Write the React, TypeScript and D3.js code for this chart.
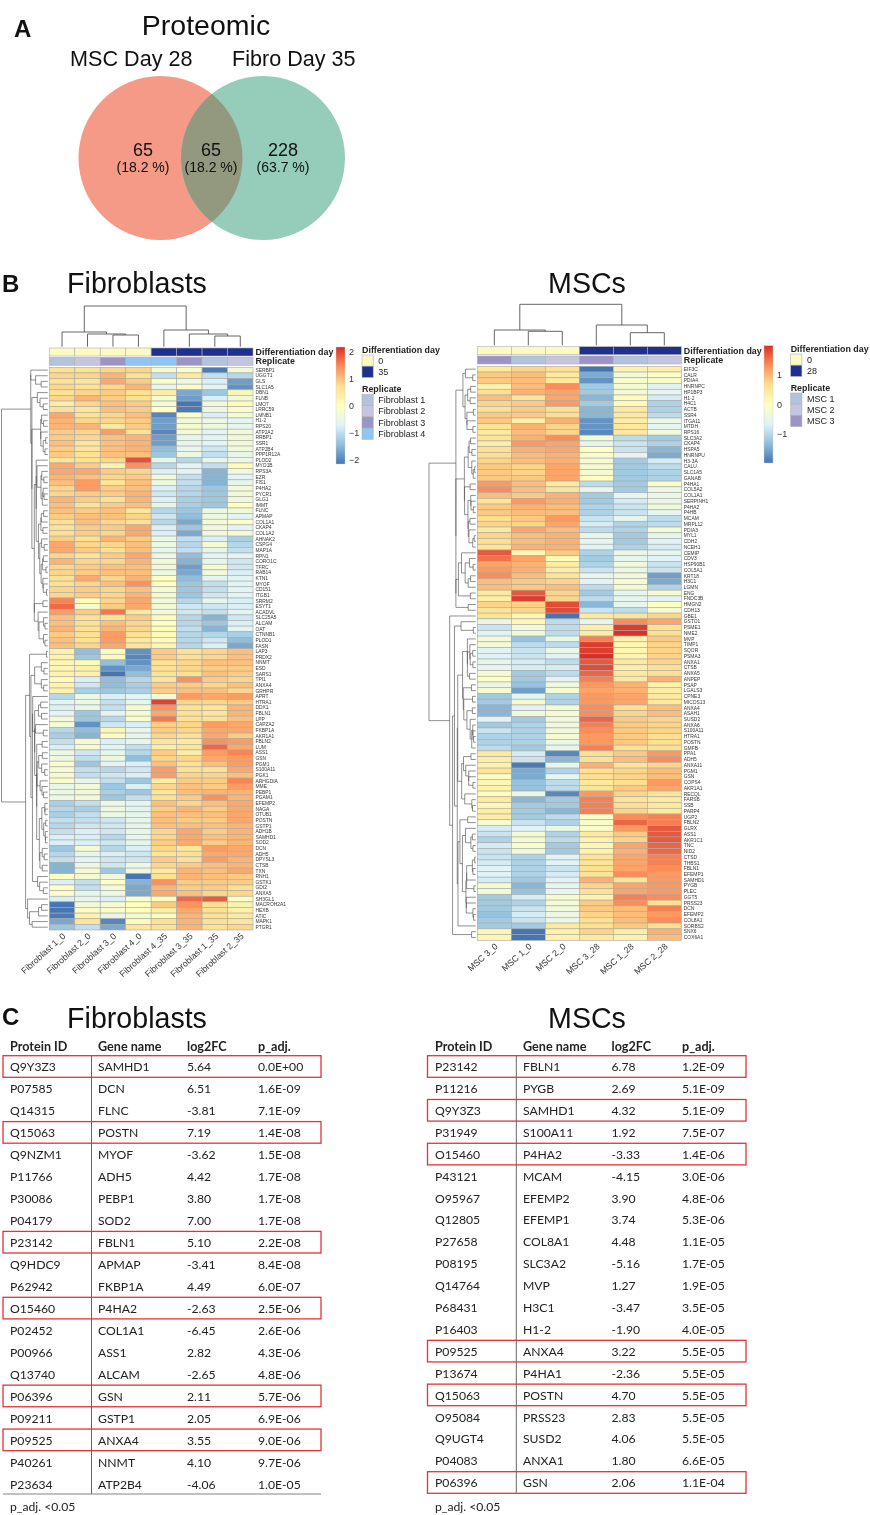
import * as d3 from "d3";
import React from "react";

// ---- panel B: fibroblasts ----
const fibroColumns = ["Fibroblast 1_0", "Fibroblast 2_0", "Fibroblast 3_0", "Fibroblast 4_0", "Fibroblast 4_35", "Fibroblast 3_35", "Fibroblast 1_35", "Fibroblast 2_35"];
const fibroDays = [0, 0, 0, 0, 35, 35, 35, 35];
const fibroReplicates = ["Fibroblast 1", "Fibroblast 2", "Fibroblast 3", "Fibroblast 4", "Fibroblast 4", "Fibroblast 3", "Fibroblast 1", "Fibroblast 2"];
const fibroGenes = ["SERBP1","UGGT1","GLS","SLC1A5","DBN1","FLNB","LMO7","LRRC59","LMNB1","H1-2","RPS20","ATP2A2","RRBP1","SSR1","ATP2B4","PPP1R12A","PLOD2","MYO1B","RPS3A","EZR","FIS1","P4HA2","PYCR1","GLG1","IMMT","FLNC","APMAP","COL1A1","CKAP4","COL1A2","AHNAK2","CSPG4","MAP1A","RPN1","CORO1C","TFRC","RAB14","KTN1","MYOF","CD151","ITGB1","SRRM2","ESYT1","ACADVL","SLC25A5","ALCAM","OAT","CTNNB1","PLOD1","FASN","LAP3","PRDX2","NNMT","ESD","SARS1","TPI1","ANXA4","GRHPR","APRT","HTRA1","DDX1","FBLN1","LPP","CAPZA2","FKBP1A","AKR1A1","FBLN2","LUM","ASS1","GSN","PGM1","S100A11","PGK1","ARHGDIA","MME","PEBP1","PGAM1","EFEMP2","NAGA","OTUB1","POSTN","GSTP1","ADH1B","SAMHD1","SOD2","DCN","ADH5","DPYSL3","CTSB","TXN","RNH1","GSTK1","GDI2","ANXA5","SH3GL1","MACROH2A1","HEXB","ATIC","MAPK1","PTGR1"];
const fibroValues = [
  [.7,.7,.8,.8,-.2,-.1,-1.9,-.3],[.8,.8,1.1,.7,-.9,.5,-.9,-1],[.7,.6,1.2,.9,-.1,-.4,-.7,-1.6],[.8,.7,.8,1.1,-.5,-.1,-.6,-1.7],
  [.7,.8,.9,.7,.4,-1.5,-1.2,.2],[.8,1.1,.9,.7,-.2,-1.6,-.7,-.3],[.4,.8,1,.9,-.2,-2,-.3,.1],[.7,.6,1,.9,0,-1.9,-.4,-.1],
  [1.2,.7,.8,1,-1.8,-.1,-.7,-.2],[1.1,.8,.8,.9,-1.6,-.3,-.4,-.6],[1.1,1.1,.5,.9,-1.6,-.2,-.4,-.5],[.9,.8,1.3,.7,-1.8,-.2,-.6,-.3],
  [.9,.8,1,1.1,-1.6,-.5,-.6,-.3],[1,.6,1,1.1,-1.6,-.5,-.6,-.3],[.9,.6,1,1.1,-1.3,-.5,-.8,-.3],[.9,.7,1,1,-1.2,-.4,-.9,-.5],
  [.6,.7,.8,1.9,-.5,-1,-.5,-.4],[1.2,.9,.3,1.4,-1,-.6,-.9,.1],[1.2,1.2,.9,.8,-.7,-.6,-1.4,-.3],[1.1,1,.8,.9,-.3,-.9,-1.4,-.6],
  [1,1.3,.6,1,-.4,-.9,-1.4,-.5],[.8,1.3,.9,1,-.7,-1,-1.2,-.3],[.8,.9,.9,1.1,-.8,-1,-1.2,-.3],[1.1,.9,.7,1.1,-.7,-1.1,-1.2,-.3],
  [1,.7,.9,1,-.5,-1.1,-1.2,0],[1,.9,1,.6,-1,-1.2,-.4,-.3],[.9,1,1,.8,-.8,-1.3,-.4,-.6],[.7,1,.8,.7,-1,-1.5,-.2,0],
  [.7,.9,.9,1.2,-.7,-1.2,-.3,-.6],[.7,.9,.8,1.2,-.7,-1.5,-.3,-.2],[.9,.7,1.1,.9,-.4,-.9,-.7,-1.1],[1.2,.8,.8,1,-.4,-1,-.2,-1],
  [1.2,.9,.7,1,-.5,-.9,-.5,-.9],[.8,.6,.9,1.2,-.4,-1.3,-.6,-.6],[1.1,.8,.8,1.1,-.3,-1.4,-.5,-.8],[.8,.9,1,1,-.3,-1.6,-.2,-.8],
  [.8,.9,1,1,-.4,-1.5,-.3,-.7],[.7,1.2,.8,1.1,0,-1.3,-.6,-.6],[.7,.8,1,1.4,0,-1.2,-.9,-.6],[.8,.9,.8,1,-.2,-1.2,-.9,-.6],
  [.8,.9,.8,1.1,-.2,-1.2,-.8,-.6],[1.5,.1,.8,1.2,-.3,-1,-.5,-.7],[1.7,-.2,.9,1.2,-.3,-.8,-.8,-.7],[1.3,.9,1.6,.5,-.3,-.8,-.9,-.6],
  [1,.7,.7,.9,.1,-1,-1.4,-.8],[1,.7,1,.8,0,-1,-1.2,-.7],[1.1,.7,1.1,.8,.1,-.9,-1.4,-.6],[.9,.7,1.3,.7,.1,-1,-1,-1.1],
  [1,.7,1.3,.5,.1,-1,-.8,-1.3],[1,.8,1.2,.6,.2,-1,-.7,-1.5],
  [.3,-1.3,.1,-1.7,.9,.7,.8,1],[.3,-1.2,.1,-1.8,.9,.7,.8,1],[.2,.1,-1.3,-1.7,.7,.8,1,1],[.2,.3,-1.7,-1.5,.7,.8,.9,.9],
  [.3,.3,-2,-1.3,.7,.7,1,.9],[.1,-.7,-1.3,-1,.6,1.4,.9,.8],[.3,-.8,-1.3,-1.1,.9,.9,.8,1],[.3,-1.1,-1.2,-1.1,.9,1,1,.8],
  [-1,-.4,-.7,-.6,-.3,1.3,1.2,1.3],[-.6,-.4,-.9,-.5,2,.8,.8,.9],[-.7,-.5,-.9,-.2,1.4,.7,.6,1.1],[-.6,-1.2,-.6,-.2,1.2,.7,.6,1.1],
  [-.3,-1.2,-1,-.1,1.6,.7,.7,1],[-.2,-1.7,-.8,-.7,.9,.8,1.3,1.2],[-1,-1.3,.2,-.5,.9,.8,1.2,1.2],[-1.1,-1.4,-.1,-.5,.8,.7,1.2,.9],
  [-.9,-.2,-.7,-.5,.6,.5,1.4,1.3],[-.7,-.2,-.6,-.9,.4,.6,1.7,1.2],[-.4,-.8,-.5,-1,.9,.4,1.3,1.5],[-.4,-.9,-.4,-1.3,.8,.8,1.2,1.3],
  [-.1,-1.2,-.6,-.7,1,.7,1,1.3],[-.2,-.9,-1,-.8,1.3,.7,.7,1.2],[-.2,-.9,-.8,-.7,1.3,.8,.8,1],[-.1,-.5,-.9,-1.2,.4,.9,.9,1.5],
  [-.5,-.3,-1.2,-.7,.8,1,.9,1.3],[-.4,-.3,-1.1,-1.2,.6,1,1.1,1.1],[-.4,-.3,-1.2,-.9,.7,.9,1.4,1.1],[-1.1,-.9,-.4,-.6,1,.8,1,1.2],
  [-1,-1.1,-.4,-.6,.9,1.1,.9,1.2],[-1.1,-.9,-.4,-.5,1,1,1,1.2],[-.9,-.9,-.8,-.5,1,.9,.9,1.2],[-1,-.8,-.8,-.5,1,1,1,1.1],
  [-.9,-.7,-.8,-.5,.8,1.2,.9,1.1],[-.7,-.7,-1,-.5,.8,1.2,1,1.1],[-.7,-.7,-.8,-.5,.9,1.2,.9,1.1],[-1.2,-.2,-1,-.7,.8,.5,1.3,1.2],
  [-1,-.5,-.7,-.8,.6,.7,1.2,1.2],[-.9,-.6,-.8,-.8,.9,.7,1.3,1.1],[-1.4,-.4,-.8,-.4,.8,.9,1,1.1],[-1.4,-.2,-1.2,-.4,.5,1.1,1,1.2],
  [0,-.2,-.3,-2,.7,1.1,1,.9],[-.7,-.9,0,-1.4,1.4,.9,.9,.9],[0,-.9,-.3,-1.5,1.1,.9,.9,.7],[-.1,-.5,-.4,-1.5,1.2,1,.8,.8],
  [-.7,-.5,-.7,-.1,.1,1.7,1.8,-.1],[-2,-.3,-.2,0,.9,1.4,.7,.3],[-2.3,-.1,-.1,0,.4,1.2,.7,.3],[-1.9,.3,-.5,-.2,.1,1.1,.7,.5],
  [-1.5,.6,-1.8,.1,.7,1.1,.7,.6],[-1.2,-.9,-1.5,.6,.7,1.1,.7,.8],
];
const fibroColTree = { h: 40.7, kids: [{ h: 14.7, kids: [0, { h: 12.7, kids: [1, { h: 11.7, kids: [2, 3] }] }] }, { h: 16.7, kids: [4, { h: 12.7, kids: [5, { h: 10.7, kids: [6, 7] }] }] }] };
// top splits of the row tree, as seen in the picture: [from, to) row ranges
const fibroRowBlocks = [[[0, 4], [4, 50]], [[50, 94], [94, 100]]];
const fibroBarTicks = [2, 1, 0, -1, -2];

// ---- panel B: MSCs ----
const mscColumns = ["MSC 3_0", "MSC 1_0", "MSC 2_0", "MSC 3_28", "MSC 1_28", "MSC 2_28"];
const mscDays = [0, 0, 0, 28, 28, 28];
const mscReplicates = ["MSC 3", "MSC 1", "MSC 2", "MSC 3", "MSC 1", "MSC 2"];
const mscGenes = ["EIF3C","CALR","PDIA4","HNRNPC","HP1BP3","H1-2","H4C1","ACTB","SSR4","ITGA11","MTDH","RPS16","SLC3A2","CKAP4","HSPA5","HNRNPU","H3-3A","CALU","SLC1A5","GANAB","P4HA1","COL5A2","COL1A1","SERPINH1","P4HA2","P4HB","MCAM","MRPL12","PDIA3","MYL1","CDH2","NCEH1","CEMIP","CDV3","HSP90B1","COL5A1","KRT18","H3C1","LGMN","ENG","FNDC3B","HMGN2","CDH13","GBE1","GSTO1","PSME1","NME2","MVP","TIMP1","SQOR","PSMA3","ANXA1","CTSB","ANXA5","ANPEP","PSAP","LGALS3","CPNE3","MICOS13","ANXA4","ASAH1","SUSD2","ANXA6","S100A11","HTRA1","POSTN","GMFB","PPA1","ADH5","ANXA11","PGM1","GSN","COPS4","AKR1A1","RECQL","FARSB","SSB","PARP4","UGP2","FBLN2","GLRX","ASS1","AKR1C1","TNC","NID2","CTSD","THBS1","FBLN1","EFEMP1","SAMHD1","PYGB","PLEC","GGT5","PRSS23","DCN","EFEMP2","COL8A1","SORBS2","SNX6","COX6A1"];
const mscValues = [
  [.5,.8,.7,-1.9,.3,.4],[.9,1,.5,-1.4,-.3,-.1],[.9,1,.5,-1.6,-.1,-.1],[.3,1,1.4,-1.1,-.2,-.6],[.7,1.1,1.2,-1.1,-.2,-.5],
  [1,.6,1.2,-1.3,.1,-.7],[.8,.9,1.3,-1.1,.1,-1],[.7,.9,.7,-1.3,.5,-1],[.9,.9,.7,-1.3,.5,-.9],[.9,.4,1.1,-1.6,.4,-.4],
  [.6,1.1,.8,-1.6,.5,-.5],[.5,1,.8,-1.7,.5,-.3],[.6,1.1,1.4,-.2,-.9,-1.1],[.4,1.3,1.2,-.5,-.8,-1],[.7,1.1,1.2,0,-.8,-1.3],
  [.7,1,1.1,-.1,-.5,-1.4],[.8,1,1.1,-.2,-1.1,-.7],[.9,.8,1.2,-.2,-1.1,-.9],[.9,.8,1.2,-.2,-1.1,-1],[.9,.9,1.2,0,-1.1,-1],
  [1.3,1,.5,-.9,-1.1,-.1],[1.4,1,.6,-.5,-1.1,-.4],[1,.9,1.1,-1.1,-.5,-.4],[.6,1.3,1.1,-1.1,-.7,-.4],[.9,1.1,1,-1,-.8,-.3],
  [.9,1,1,-1,-.8,-.5],[.7,.9,1.3,-.8,-.5,-.9],[.8,.8,1.2,-.7,-1,-.9],[.5,1.2,1,-.9,-1,-.2],[.8,1,1.1,-.5,-1.1,-.5],
  [.7,1,1.1,-.5,-1.1,-.6],[.6,1.1,1.1,-.6,-1,-.7],[1.8,.2,.9,-1,-.4,-.5],[1.6,1.2,.1,-1.1,-.5,-.6],[1.2,1.1,.4,-1,-.3,-.8],
  [1.3,1.1,.4,-.8,-.4,-.8],[1.4,1,.6,-.5,-.3,-1.5],[1,.9,.8,-.6,-.2,-1.4],[1,.9,1,-.9,-.2,-1],[.5,1.8,.8,-1.1,-.5,-.2],
  [.4,2,.8,-.9,-.5,-.6],[.8,.8,1.9,-1.3,-.5,0],[.6,.8,1.9,-.8,-.9,-.2],
  [.6,.2,-2,.5,.6,.8],[-.4,.2,-.9,-.5,1.4,1.2],[-.8,-.3,-.9,.4,2,.7],[-.6,-.3,-.9,.4,2.1,.7],[-.3,-1.2,-.4,1.5,.3,.9],
  [-.2,-.9,-.9,2,.2,.8],[-.6,-.8,-.4,2,.2,.8],[-.6,-.8,-.6,2.2,.2,.8],[-.5,-.7,-.9,1.8,.5,.8],[-.5,-.7,-.7,1.9,.4,.7],
  [-.2,-1.1,-.9,1.7,.5,.7],[0,-1.1,-.6,1.5,.5,1.1],[-.4,-1.2,-.3,1.3,1.1,.3],[-.2,-1.5,-.2,1.2,1.1,.4],[-1.1,-.5,-1,1.3,1.2,.5],
  [-1.1,-.2,-1,1.3,1.2,.5],[-1.3,-.6,-.2,1.4,.7,1],[-1.3,-.3,-.2,1.4,.8,1],[-.6,-1.1,-.3,1.7,.9,.8],[-1.1,-1,-.3,1.5,.9,.8],
  [-.8,-1,-.3,1.4,.9,.8],[-1,-1,-.2,1.3,.9,.7],[-1,-1,-.4,1.3,.9,.7],[-.9,-1.1,-.5,1.5,.7,.7],[.5,-.7,-1.7,.7,.9,1.3],
  [.4,-.8,-1.3,.7,1,1.4],[.3,-1.8,-.5,1.1,.6,.8],[.6,-1.4,-1,.7,.8,1],[-.1,-1.4,-.5,.7,.8,1],[.2,-1.2,-.9,.5,.7,1.3],
  [.3,-1.2,-.9,.6,.9,1.2],[.1,-.4,-1.7,1.3,.8,.6],[.5,-1.3,-1.1,1.5,.6,.5],[.2,-1.1,-1.1,1.5,.7,.5],[.4,-1.1,-1.3,1.5,.8,.5],
  [.4,-1.1,-.9,-.1,1.4,1.5],[-.2,-.8,-1,-.1,1.7,1.5],[-.7,-.6,-.4,-.1,1.3,1.8],[-.8,-.2,-1,.5,.9,1.8],[-1,-.2,-.9,.3,.8,1.8],
  [-.7,-.1,-1.1,.2,1.2,1.7],[-.8,-.3,-1.1,.3,1.1,1.7],[-.8,-1,-.6,.6,1.2,1.5],[-.7,-1,-.6,.6,1.2,1.5],[-.6,-1,-.8,.7,1.2,1.4],
  [-.6,-1,-.7,.6,1.4,1.3],[-.7,-1.1,-.6,1.1,.6,1.3],[-.2,-1.3,-.5,.8,1.2,1.3],[-.3,-1.2,-.5,.7,1.2,1.3],[-1.1,-.7,-.2,.3,1.5,1.4],
  [-1.1,-1,-.2,.9,1.4,.7],[-1.1,-.8,-.3,.9,1,1.5],[-1.2,-.7,-.4,.8,1,1.3],[-1.1,-.8,-.4,.7,1,1.4],[-1.1,-1.1,.5,.7,.9,.7],
  [.2,-2,.3,.8,.4,1.1],[.2,-2.2,.3,.5,.3,1],
];
const mscColTree = { h: 41, kids: [{ h: 15.3, kids: [0, { h: 14, kids: [1, 2] }] }, { h: 20.3, kids: [3, { h: 12.6, kids: [4, 5] }] }] };
const mscRowBlocks = [[[0, 12], [[12, 32], [32, 43]]], [[43, 44], [44, 100]]];
const mscBarTicks = [1, 0, -1];

// ---- colours ----
const heatStops = ["#4575B4", "#91BFDB", "#E0F3F8", "#FFFFBF", "#FEE090", "#FC8D59", "#D73027"];
const dayColours = { 0: "#FCFAC2", 35: "#1F2F90", 28: "#1F2F90" };
const replicateColours = {
  "Fibroblast 1": "#B3C2DD", "Fibroblast 2": "#C6C5E0", "Fibroblast 3": "#9C94C6", "Fibroblast 4": "#8FC4F5",
  "MSC 1": "#B3C2DD", "MSC 2": "#C6C5E0", "MSC 3": "#9C94C6",
};

// ---- panel C ----
const fibroProteinIds = ["Q9Y3Z3","P07585","Q14315","Q15063","Q9NZM1","P11766","P30086","P04179","P23142","Q9HDC9","P62942","O15460","P02452","P00966","Q13740","P06396","P09211","P09525","P40261","P23634"];
const fibroTableGenes = ["SAMHD1","DCN","FLNC","POSTN","MYOF","ADH5","PEBP1","SOD2","FBLN1","APMAP","FKBP1A","P4HA2","COL1A1","ASS1","ALCAM","GSN","GSTP1","ANXA4","NNMT","ATP2B4"];
const fibroLog2fc = ["5.64","6.51","-3.81","7.19","-3.62","4.42","3.80","7.00","5.10","-3.41","4.49","-2.63","-6.45","2.82","-2.65","2.11","2.05","3.55","4.10","-4.06"];
const fibroPadj = ["0.0E+00","1.6E-09","7.1E-09","1.4E-08","1.5E-08","1.7E-08","1.7E-08","1.7E-08","2.2E-08","8.4E-08","6.0E-07","2.5E-06","2.6E-06","4.3E-06","4.8E-06","5.7E-06","6.9E-06","9.0E-06","9.7E-06","1.0E-05"];
const fibroBoxed = ["Q9Y3Z3","Q15063","P23142","O15460","P06396","P09525"];

const mscProteinIds = ["P23142","P11216","Q9Y3Z3","P31949","O15460","P43121","O95967","Q12805","P27658","P08195","Q14764","P68431","P16403","P09525","P13674","Q15063","O95084","Q9UGT4","P04083","P06396"];
const mscTableGenes = ["FBLN1","PYGB","SAMHD1","S100A11","P4HA2","MCAM","EFEMP2","EFEMP1","COL8A1","SLC3A2","MVP","H3C1","H1-2","ANXA4","P4HA1","POSTN","PRSS23","SUSD2","ANXA1","GSN"];
const mscLog2fc = ["6.78","2.69","4.32","1.92","-3.33","-4.15","3.90","3.74","4.48","-5.16","1.27","-3.47","-1.90","3.22","-2.36","4.70","2.83","4.06","1.80","2.06"];
const mscPadj = ["1.2E-09","5.1E-09","5.1E-09","7.5E-07","1.4E-06","3.0E-06","4.8E-06","5.3E-06","1.1E-05","1.7E-05","1.9E-05","3.5E-05","4.0E-05","5.5E-05","5.5E-05","5.5E-05","5.5E-05","5.5E-05","6.6E-05","1.1E-04"];
const mscBoxed = ["P23142","Q9Y3Z3","O15460","P09525","Q15063","P06396"];

const tableHeaders = ["Protein ID", "Gene name", "log2FC", "p_adj."];

// panel A
const vennCounts = ["65", "65", "228"];
const vennPercents = ["(18.2 %)", "(18.2 %)", "(63.7 %)"];

const SANS = "'Liberation Sans', Arial, sans-serif";
const TABLE_FONT = "Lato, 'Open Sans', sans-serif";

const rowDist = (values: number[][], a: number[], b: number[]) => {
  const dist = (p: number[], q: number[]) => Math.sqrt(d3.sum(p, (v, i) => (v - q[i]) ** 2));
  return d3.mean(a.flatMap((i) => b.map((j) => dist(values[i], values[j])))) as number;
};

const mergeNodes = (values: number[][], l: any, r: any, d?: number) => ({
  rows: [...l.rows, ...r.rows],
  h: Math.max(d ?? rowDist(values, l.rows, r.rows), l.h, r.h),
  pos: (l.pos + r.pos) / 2,
  kids: [l, r],
});

// adjacent-only agglomerative clustering, the row order stays as it is in the picture
function clusterRange(values: number[][], from: number, to: number) {
  const clusters: any[] = d3.range(from, to).map((i) => ({ rows: [i], h: 0, pos: i }));
  while (clusters.length > 1) {
    let best = 0;
    let bestD = Infinity;
    for (let i = 0; i < clusters.length - 1; i++) {
      const d = rowDist(values, clusters[i].rows, clusters[i + 1].rows);
      if (d < bestD) { bestD = d; best = i; }
    }
    clusters.splice(best, 2, mergeNodes(values, clusters[best], clusters[best + 1], bestD));
  }
  return clusters[0];
}

function rowTree(values: number[][], block: any): any {
  if (typeof block[0] === "number") return clusterRange(values, block[0], block[1]);
  return mergeNodes(values, rowTree(values, block[0]), rowTree(values, block[1]));
}

function colTreePaths(node: any, xOf: (i: number) => number, yOf: (h: number) => number, out: string[]) {
  if (typeof node === "number") return { x: xOf(node), y: yOf(0) };
  const [a, b] = node.kids.map((k: any) => colTreePaths(k, xOf, yOf, out));
  const y = yOf(node.h);
  out.push(`M${a.x},${a.y}V${y}H${b.x}V${b.y}`);
  return { x: (a.x + b.x) / 2, y };
}

function Heatmap({ g, genes, columns, values, days, replicates, colTree, rowBlocks }: any) {
  const x = d3.scaleBand().domain(columns).range([g.x0, g.x1]);
  const y = d3.scaleBand().domain(genes).range([g.y0, g.y1]);
  const colour = d3.scaleLinear<string>()
    .domain(d3.range(7).map((i) => (i < 3 ? g.cool * (i / 3 - 1) : g.warm * (i / 3 - 1))))
    .range(heatStops).clamp(true);
  const colH = d3.scaleLinear().domain([0, colTree.h]).range([g.treeBottom, g.treeTop]);
  const colPaths: string[] = [];
  colTreePaths(colTree, (i) => (x(columns[i]) as number) + x.bandwidth() / 2, colH, colPaths);

  const tree = rowTree(values, rowBlocks);
  const rowH = d3.scaleLinear().domain([0, tree.h]).range([g.x0 - 1.5, g.rootX]);
  const rowY = (pos: number) => g.y0 + (pos + 0.5) * y.step();
  const rowPaths: string[] = [];
  const walk = (n: any) => {
    if (!n.kids) return;
    const [a, b] = n.kids;
    rowPaths.push(`M${rowH(a.h)},${rowY(a.pos)}H${rowH(n.h)}V${rowY(b.pos)}H${rowH(b.h)}`);
    walk(a);
    walk(b);
  };
  walk(tree);

  return (
    <g fontFamily={SANS}>
      {colPaths.map((d, i) => <path key={i} d={d} fill="none" stroke="#555" strokeWidth={0.9} />)}
      {rowPaths.map((d, i) => <path key={i} d={d} fill="none" stroke="#444" strokeWidth={0.6} />)}
      {columns.map((c: string, i: number) => (
        <g key={c}>
          <rect x={x(c)} y={g.dayY} width={x.bandwidth()} height={g.annH} fill={dayColours[days[i]]} stroke="#b0b0b0" strokeWidth={0.6} />
          <rect x={x(c)} y={g.repY} width={x.bandwidth()} height={g.annH} fill={replicateColours[replicates[i]]} stroke="#b0b0b0" strokeWidth={0.6} />
          <text
            transform={`translate(${(x(c) as number) + x.bandwidth() / 2 + 4},${g.y1 + 7}) rotate(-42)`}
            textAnchor="end" fontSize={8.8} fill="#333"
          >{c}</text>
        </g>
      ))}
      <text x={g.x1 + 2.5} y={g.dayY + g.annH / 2 + 3} fontSize={8.9} fontWeight="bold" fill="#222">Differentiation day</text>
      <text x={g.x1 + 2.5} y={g.repY + g.annH / 2 + 3} fontSize={8.9} fontWeight="bold" fill="#222">Replicate</text>
      {genes.map((gene: string, r: number) => (
        <g key={gene}>
          {columns.map((c: string, j: number) => (
            <rect key={c} x={x(c)} y={y(gene)} width={x.bandwidth()} height={y.bandwidth()}
              fill={colour(values[r][j])} stroke="#a8a8a8" strokeWidth={0.6} />
          ))}
          <text x={g.x1 + 2.5} y={(y(gene) as number) + y.bandwidth() / 2 + 1.7} fontSize={4.9} fill="#333">{gene}</text>
        </g>
      ))}
    </g>
  );
}

function ColourBar({ g, ticks, id }: any) {
  const tickY = d3.scaleLinear().domain([0, 1]).range([g.zero, g.zero - g.unit]);
  return (
    <g fontFamily={SANS}>
      <defs>
        <linearGradient id={id} x1="0" y1="1" x2="0" y2="0">
          {heatStops.map((c, i) => <stop key={c} offset={`${(i * 100) / 6}%`} stopColor={c} />)}
        </linearGradient>
      </defs>
      <rect x={g.x} y={g.top} width={g.w} height={g.bottom - g.top} fill={`url(#${id})`} stroke="#ccc" strokeWidth={0.4} />
      {ticks.map((v: number) => (
        <text key={v} x={g.x + g.w + 4} y={tickY(v) + 3} fontSize={9} fill="#333">{v < 0 ? `\u2212${-v}` : v}</text>
      ))}
    </g>
  );
}

function Legend({ g, days, replicates }: any) {
  const dayY = d3.scaleBand().domain(days).range([g.dayTop, g.dayTop + days.length * g.step]);
  const repY = d3.scaleBand().domain(replicates).range([g.repTop, g.repTop + replicates.length * g.step]);
  return (
    <g fontFamily={SANS} fontSize={9} fill="#222">
      <text x={g.x} y={g.dayTitle} fontWeight="bold" fontSize={8.9}>Differentiation day</text>
      {days.map((d: any) => (
        <g key={d}>
          <rect x={g.x} y={dayY(d)} width={g.step} height={g.step} fill={dayColours[d]} stroke="#b0b0b0" strokeWidth={0.6} />
          <text x={g.x + g.step + 5} y={(dayY(d) as number) + g.step / 2 + 3}>{d}</text>
        </g>
      ))}
      <text x={g.x} y={g.repTitle} fontWeight="bold" fontSize={8.9}>Replicate</text>
      {replicates.map((r: string) => (
        <g key={r}>
          <rect x={g.x} y={repY(r)} width={g.step} height={g.step} fill={replicateColours[r]} stroke="#b0b0b0" strokeWidth={0.6} />
          <text x={g.x + g.step + 5} y={(repY(r) as number) + g.step / 2 + 3}>{r}</text>
        </g>
      ))}
    </g>
  );
}

function ResultTable({ g, ids, genes, fc, padj, boxed }: any) {
  const y = d3.scaleLinear().domain([0, ids.length - 1]).range([g.first, g.last]);
  const cols = [ids, genes, fc, padj];
  return (
    <g fontFamily={TABLE_FONT} fontSize={12.2} fill="#222">
      {tableHeaders.map((h, i) => (
        <text key={h} x={g.cols[i]} y={g.header} dominantBaseline="central" fontWeight="bold" fontSize={12.6}>{h}</text>
      ))}
      <line x1={g.rule} x2={g.rule} y1={g.first - 11} y2={g.last + 10} stroke="#555" strokeWidth={0.9} />
      {g.bottomRule && <line x1={g.boxX0} x2={g.boxX1} y1={g.last + 10} y2={g.last + 10} stroke="#777" strokeWidth={0.9} />}
      {ids.map((id: string, r: number) => (
        <g key={id}>
          {cols.map((col, c) => (
            <text key={c} x={g.cols[c]} y={y(r)} dominantBaseline="central">{col[r]}</text>
          ))}
          {boxed.includes(id) && (
            <rect x={g.boxX0} y={y(r) - 11} width={g.boxX1 - g.boxX0} height={21.6} fill="none" stroke="#E53238" strokeWidth={1.3} />
          )}
        </g>
      ))}
      <text x={g.cols[0]} y={g.footer} dominantBaseline="central">p_adj. &lt;0.05</text>
    </g>
  );
}

function Venn() {
  const centres = d3.scalePoint().domain(["MSC", "Fibro"]).range([160.5, 263]);
  const r = 82;
  const cy = 158;
  const labelX = [143, 211, 283];
  return (
    <g fontFamily={SANS} textAnchor="middle" fill="#111">
      <defs>
        <clipPath id="vennLeft"><circle cx={centres("MSC")} cy={cy} r={r} /></clipPath>
      </defs>
      <circle cx={centres("MSC")} cy={cy} r={r} fill="#F59A87" />
      <circle cx={centres("Fibro")} cy={cy} r={r} fill="#96CDBA" />
      <circle cx={centres("Fibro")} cy={cy} r={r} fill="#92997F" clipPath="url(#vennLeft)" />
      {vennCounts.map((c, i) => (
        <g key={i}>
          <text x={labelX[i]} y={156} fontSize={18}>{c}</text>
          <text x={labelX[i]} y={171.5} fontSize={14}>{vennPercents[i]}</text>
        </g>
      ))}
      <text x={206} y={34.5} fontSize={28.5}>Proteomic</text>
      <text x={131.3} y={65.8} fontSize={21.6}>MSC Day 28</text>
      <text x={293.8} y={65.8} fontSize={21.6}>Fibro Day 35</text>
    </g>
  );
}

const fibroLayout = { x0: 49.3, x1: 253, y0: 367.3, y1: 930, cool: 1.95, warm: 2.15, treeTop: 306, treeBottom: 346.7, dayY: 348, repY: 357.3, annH: 8, rootX: 1.5 };
const mscLayout = { x0: 477.3, x1: 681.3, y0: 366.3, y1: 940.3, cool: 1.85, warm: 2.1, treeTop: 304.3, treeBottom: 345.3, dayY: 346.7, repY: 356, annH: 8, rootX: 429 };

export default function App() {
  return (
    <svg width={870} height={1515} style={{ position: "absolute", left: 0, top: 0, background: "#fff", filter: "blur(0.4px)" }}>
      <Venn />
      <g fontFamily={SANS} fill="#111">
        <text x={14} y={36.5} fontSize={24} fontWeight="bold">A</text>
        <text x={2} y={292} fontSize={24} fontWeight="bold">B</text>
        <text x={2} y={1025} fontSize={24} fontWeight="bold">C</text>
        <text x={137} y={292.7} fontSize={28.6} textAnchor="middle">Fibroblasts</text>
        <text x={587} y={292.7} fontSize={28.6} textAnchor="middle">MSCs</text>
        <text x={137} y={1028.3} fontSize={28.6} textAnchor="middle">Fibroblasts</text>
        <text x={587} y={1028.3} fontSize={28.6} textAnchor="middle">MSCs</text>
      </g>
      <Heatmap g={fibroLayout} genes={fibroGenes} columns={fibroColumns} values={fibroValues} days={fibroDays} replicates={fibroReplicates} colTree={fibroColTree} rowBlocks={fibroRowBlocks} />
      <Heatmap g={mscLayout} genes={mscGenes} columns={mscColumns} values={mscValues} days={mscDays} replicates={mscReplicates} colTree={mscColTree} rowBlocks={mscRowBlocks} />
      <ColourBar id="fibroBar" g={{ x: 336, w: 9, top: 347, bottom: 464, zero: 406, unit: 27 }} ticks={fibroBarTicks} />
      <ColourBar id="mscBar" g={{ x: 764, w: 9, top: 345.7, bottom: 463, zero: 404.7, unit: 29.3 }} ticks={mscBarTicks} />
      <Legend g={{ x: 362, step: 11.2, dayTitle: 353, dayTop: 355, repTitle: 392, repTop: 394.5 }} days={[0, 35]} replicates={["Fibroblast 1", "Fibroblast 2", "Fibroblast 3", "Fibroblast 4"]} />
      <Legend g={{ x: 790.7, step: 11.2, dayTitle: 351.7, dayTop: 354, repTitle: 391, repTop: 393 }} days={[0, 28]} replicates={["MSC 1", "MSC 2", "MSC 3"]} />
      <ResultTable
        g={{ cols: [10, 98, 187, 258], rule: 91.5, header: 1046.7, first: 1066.7, last: 1484, boxX0: 3, boxX1: 321, bottomRule: true, footer: 1506 }}
        ids={fibroProteinIds} genes={fibroTableGenes} fc={fibroLog2fc} padj={fibroPadj} boxed={fibroBoxed}
      />
      <ResultTable
        g={{ cols: [435, 523, 611.5, 682], rule: 516.3, header: 1046.7, first: 1066.7, last: 1482.7, boxX0: 427.5, boxX1: 746, bottomRule: false, footer: 1506 }}
        ids={mscProteinIds} genes={mscTableGenes} fc={mscLog2fc} padj={mscPadj} boxed={mscBoxed}
      />
    </svg>
  );
}
